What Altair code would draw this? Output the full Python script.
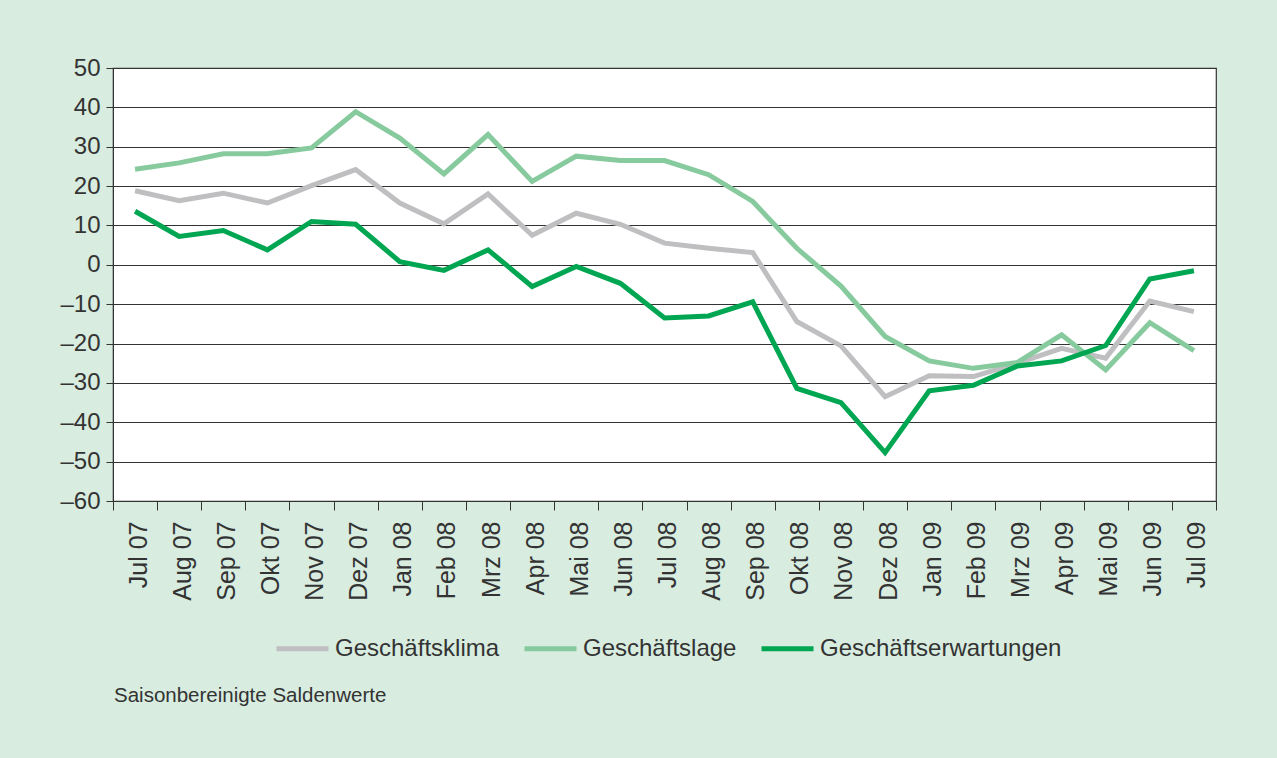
import altair as alt
import pandas as pd

months = ["Jul 07", "Aug 07", "Sep 07", "Okt 07", "Nov 07", "Dez 07", "Jan 08", "Feb 08",
          "Mrz 08", "Apr 08", "Mai 08", "Jun 08", "Jul 08", "Aug 08", "Sep 08", "Okt 08",
          "Nov 08", "Dez 08", "Jan 09", "Feb 09", "Mrz 09", "Apr 09", "Mai 09", "Jun 09", "Jul 09"]

klima = [18.8, 16.3, 18.2, 15.7, 20.1, 24.2, 15.7, 10.4, 18.0, 7.5, 13.1, 10.3, 5.5, 4.2, 3.1,
         -14.4, -20.6, -33.5, -28.2, -28.4, -25.0, -21.2, -23.7, -9.2, -11.9]
lage = [24.3, 25.9, 28.2, 28.2, 29.7, 38.9, 32.2, 23.1, 33.1, 21.2, 27.6, 26.5, 26.5, 22.9, 16.1,
        4.2, -5.4, -18.2, -24.4, -26.3, -24.8, -17.8, -26.7, -14.7, -21.8]
erwartungen = [13.6, 7.2, 8.7, 3.8, 11.0, 10.3, 0.8, -1.4, 3.8, -5.5, -0.4, -4.7, -13.5, -13.0, -9.4,
               -31.4, -35.0, -47.7, -32.0, -30.6, -25.7, -24.4, -20.5, -3.6, -1.5]

series_names = ["Geschäftsklima", "Geschäftslage", "Geschäftserwartungen"]
series_colors = ["#bfbfc1", "#87ca9e", "#00a651"]
y_ticks = list(range(-60, 51, 10))
footnote = "Saisonbereinigte Saldenwerte"

rows = []
for name, vals in zip(series_names, [klima, lage, erwartungen]):
    for m, v in zip(months, vals):
        rows.append({"Monat": m, "Wert": v, "Reihe": name})
df = pd.DataFrame(rows)

text_color = "#333333"

x_enc = alt.X("Monat:N", sort=months,
              scale=alt.Scale(type="band", paddingInner=0, paddingOuter=0),
              axis=alt.Axis(title=None, labelAngle=270, labelAlign="right", labelBaseline="middle",
                            labelFontSize=25, labelPadding=11, tickSize=9, tickBand="extent",
                            labelOffset=3, labelColor=text_color, tickColor=text_color,
                            domainColor=text_color, grid=False, labelOverlap=False))
y_enc = alt.Y("Wert:Q", scale=alt.Scale(domain=[-60, 50], nice=False, zero=False),
              axis=alt.Axis(title=None, values=y_ticks, labelFontSize=24, labelColor=text_color,
                            tickColor=text_color, tickSize=7, labelPadding=6,
                            domainColor=text_color, grid=True, gridColor=text_color,
                            gridWidth=1.2, gridOpacity=1,
                            labelExpr="datum.value < 0 ? '\u2013' + abs(datum.value) : datum.label"))
color_enc = alt.Color("Reihe:N",
                      scale=alt.Scale(domain=series_names, range=series_colors),
                      legend=alt.Legend(title=None, orient="none", legendX=161, legendY=552,
                                        direction="horizontal", symbolType="stroke",
                                        symbolSize=2704, symbolStrokeWidth=5,
                                        labelFontSize=24, labelOffset=4, columnPadding=14,
                                        labelColor=text_color, labelLimit=400, padding=0))

layers = []
for name in series_names:
    layers.append(
        alt.Chart(df).transform_filter(alt.datum.Reihe == name)
        .mark_line(strokeWidth=5, strokeJoin="miter")
        .encode(x=x_enc, y=y_enc, color=color_enc)
    )

note = alt.Chart(pd.DataFrame({"t": [footnote]})).mark_text(
    align="left", baseline="alphabetic", fontSize=20.5, color=text_color
).encode(x=alt.value(1), y=alt.value(634), text="t:N")

chart = alt.layer(*layers, note).properties(
    width=1103, height=433,
    autosize=alt.AutoSizeParams(type="none"),
    padding={"left": 113, "top": 68, "right": 61, "bottom": 257},
    background="#d8ece0",
).configure(font="Liberation Sans").configure_view(
    stroke=text_color, strokeWidth=1.2, fill="white"
)

chart.save("out.html", embed_options={"renderer": "svg", "actions": False})
